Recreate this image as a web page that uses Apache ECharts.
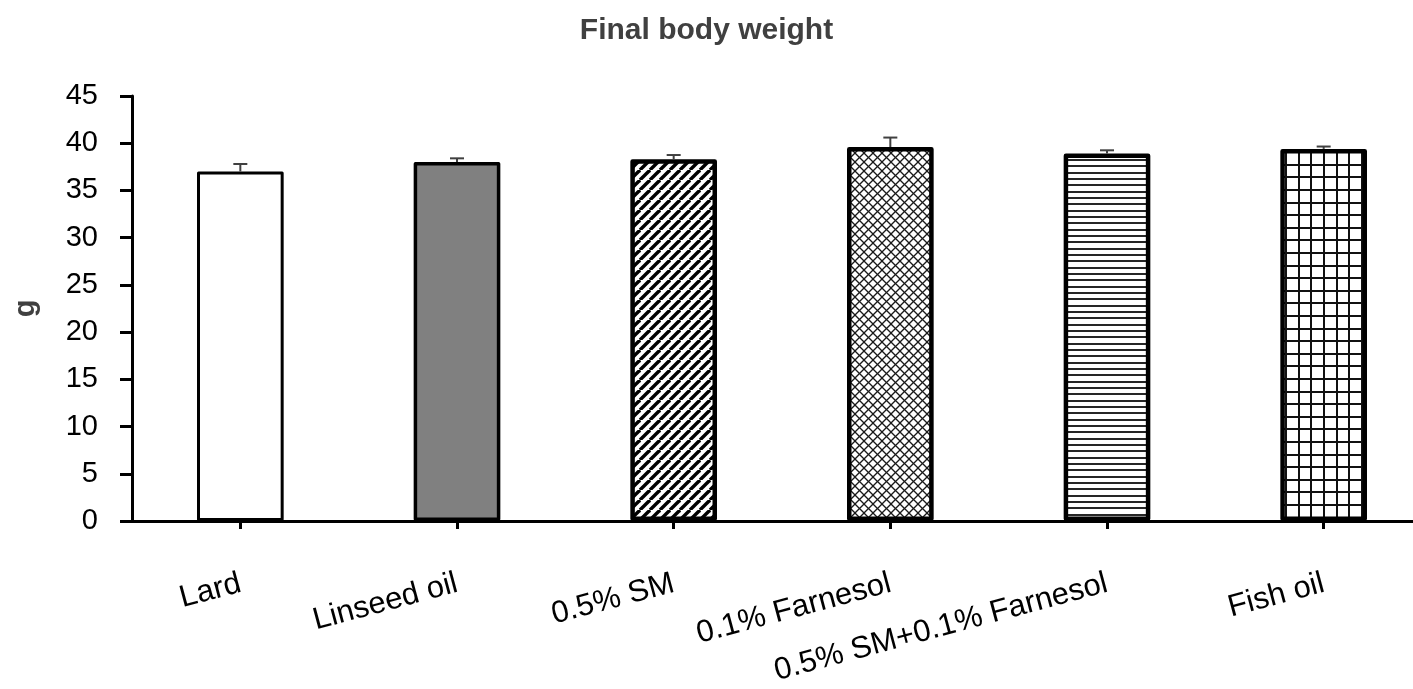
<!DOCTYPE html>
<html>
<head>
<meta charset="utf-8">
<title>Final body weight</title>
<script src="https://cdn.jsdelivr.net/npm/echarts@6/dist/echarts.min.js"></script>
<style>
  html, body { margin: 0; padding: 0; background: #ffffff; }
  #chart { width: 1413px; height: 689px; }
</style>
</head>
<body>
<div id="chart"></div>
<script>
// Diet groups and final body weight (g), mean and standard error
const categories = ['Lard', 'Linseed oil', '0.5% SM', '0.1% Farnesol', '0.5% SM+0.1% Farnesol', 'Fish oil'];
const meanWeight = [37.0, 38.0, 38.3, 39.6, 38.9, 39.4];
const errWeight = [0.8, 0.4, 0.45, 1.0, 0.35, 0.25];

// Value axis range and step
const yMin = 0;
const yMax = 45;
const yStep = 5;

// Small canvas tiles used as fill patterns for the bars
function makePattern(w, h, draw) {
  const c = document.createElement('canvas');
  c.width = w;
  c.height = h;
  const ctx = c.getContext('2d');
  ctx.fillStyle = '#ffffff';
  ctx.fillRect(0, 0, w, h);
  draw(ctx, w, h);
  return { image: c, repeat: 'repeat' };
}

const diagonalStripes = makePattern(10, 10, function (ctx, w, h) {
  ctx.strokeStyle = '#000000';
  ctx.lineWidth = 3.4;
  for (let k = -1; k <= 1; k++) {
    ctx.beginPath();
    ctx.moveTo(k * w, h);
    ctx.lineTo(k * w + w, 0);
    ctx.stroke();
  }
});

const crossHatch = makePattern(9, 9, function (ctx, w, h) {
  ctx.strokeStyle = '#1a1a1a';
  ctx.lineWidth = 1.3;
  for (let k = -1; k <= 1; k++) {
    ctx.beginPath();
    ctx.moveTo(k * w, h);
    ctx.lineTo(k * w + w, 0);
    ctx.stroke();
    ctx.beginPath();
    ctx.moveTo(k * w, 0);
    ctx.lineTo(k * w + w, h);
    ctx.stroke();
  }
});

const horizontalLines = makePattern(6, 19, function (ctx, w, h) {
  ctx.fillStyle = '#262626';
  ctx.fillRect(0, 1, w, 2);
  ctx.fillRect(0, 7, w, 2);
  ctx.fillRect(0, 13, w, 2);
});

const squareGrid = makePattern(63, 63, function (ctx, w, h) {
  ctx.fillStyle = '#111111';
  for (let i = 0; i < 5; i++) {
    const p = Math.round(i * 12.6);
    ctx.fillRect(p, 0, 2, h);
    ctx.fillRect(0, p, w, 2);
  }
});

const fills = ['#ffffff', '#808080', diagonalStripes, crossHatch, horizontalLines, squareGrid];
const borders = [3, 3.5, 4.5, 4.5, 4.5, 4.5];

const barData = meanWeight.map(function (v, i) {
  return {
    value: v,
    itemStyle: {
      color: fills[i],
      borderColor: '#000000',
      borderWidth: borders[i],
      borderJoin: 'round'
    }
  };
});

const errorData = meanWeight.map(function (v, i) {
  return [i, v, v + errWeight[i]];
});

const chart = echarts.init(document.getElementById('chart'), null, { renderer: 'canvas' });

chart.setOption({
  animation: false,
  backgroundColor: '#ffffff',
  title: {
    text: 'Final body weight',
    left: 'center',
    top: 11,
    textStyle: {
      fontFamily: 'Liberation Sans, Arial, sans-serif',
      fontSize: 30,
      fontWeight: 'bold',
      color: '#404040'
    }
  },
  // the plot runs past the right edge of the canvas, as in the printed figure
  grid: {
    left: 132,
    right: -19,
    top: 96,
    bottom: 168,
    containLabel: false,
    outerBoundsMode: 'none'
  },
  xAxis: {
    type: 'category',
    data: categories,
    axisLine: { show: true, lineStyle: { color: '#000000', width: 3 } },
    axisTick: { show: true, alignWithLabel: true, length: 8, lineStyle: { color: '#000000', width: 3 } },
    axisLabel: {
      interval: 0,
      rotate: 15,
      margin: 62,
      fontFamily: 'Liberation Sans, Arial, sans-serif',
      fontSize: 31,
      color: '#000000'
    },
    splitLine: { show: false }
  },
  yAxis: {
    type: 'value',
    min: yMin,
    max: yMax,
    interval: yStep,
    name: 'g',
    nameLocation: 'middle',
    nameGap: 92,
    nameTextStyle: {
      fontFamily: 'Liberation Sans, Arial, sans-serif',
      fontSize: 29,
      fontWeight: 'bold',
      color: '#404040'
    },
    axisLine: { show: true, lineStyle: { color: '#000000', width: 3 } },
    axisTick: { show: true, length: 12, lineStyle: { color: '#000000', width: 3 } },
    axisLabel: {
      margin: 34,
      fontFamily: 'Liberation Sans, Arial, sans-serif',
      fontSize: 29,
      color: '#000000'
    },
    splitLine: { show: false }
  },
  series: [
    {
      name: 'Final body weight',
      type: 'bar',
      barWidth: '40%',
      data: barData,
      z: 2
    },
    {
      name: 'SE',
      type: 'custom',
      z: 3,
      data: errorData,
      renderItem: function (params, api) {
        const x = api.value(0);
        const lo = api.coord([x, api.value(1)]);
        const hi = api.coord([x, api.value(2)]);
        const half = 7;
        const style = { stroke: '#404040', lineWidth: 2 };
        return {
          type: 'group',
          children: [
            { type: 'line', shape: { x1: lo[0], y1: lo[1], x2: hi[0], y2: hi[1] }, style: style },
            { type: 'line', shape: { x1: hi[0] - half, y1: hi[1], x2: hi[0] + half, y2: hi[1] }, style: style }
          ]
        };
      }
    }
  ]
});
</script>
</body>
</html>
